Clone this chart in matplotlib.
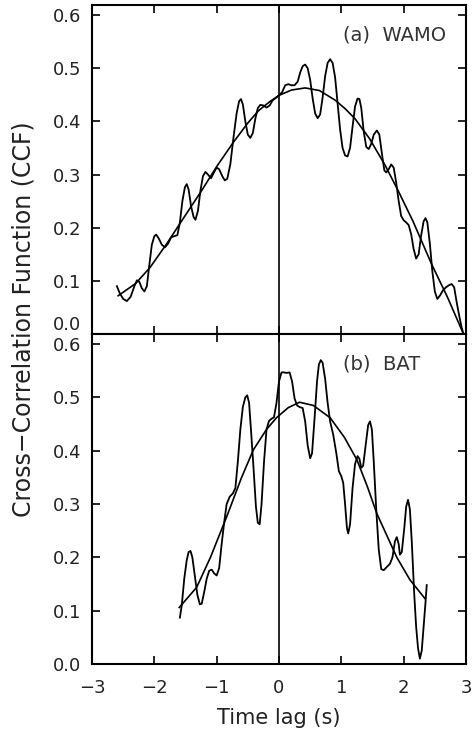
import matplotlib
matplotlib.use("Agg")
import matplotlib.pyplot as plt

# ---- data: panel (a) WAMO cross-correlation ----
wamo_lag = [-2.60, -2.56, -2.50, -2.44, -2.38, -2.32, -2.28, -2.24, -2.20, -2.16,
            -2.12, -2.08, -2.04, -2.00, -1.97, -1.93, -1.88, -1.83, -1.78, -1.73,
            -1.68, -1.63, -1.59, -1.55, -1.51, -1.48, -1.45, -1.41, -1.37, -1.34,
            -1.30, -1.26, -1.22, -1.18, -1.14, -1.09, -1.04, -1.00, -0.96, -0.91,
            -0.87, -0.83, -0.78, -0.73, -0.68, -0.64, -0.61, -0.58, -0.54, -0.50,
            -0.46, -0.42, -0.38, -0.34, -0.30, -0.25, -0.20, -0.15, -0.10, -0.05,
            0.00, 0.05, 0.10, 0.15, 0.20, 0.25, 0.30, 0.34, 0.38, 0.42,
            0.46, 0.50, 0.54, 0.58, 0.62, 0.66, 0.70, 0.74, 0.78, 0.82,
            0.86, 0.90, 0.94, 0.98, 1.02, 1.06, 1.10, 1.14, 1.18, 1.22,
            1.26, 1.29, 1.32, 1.36, 1.40, 1.44, 1.48, 1.52, 1.57, 1.61,
            1.65, 1.69, 1.72, 1.76, 1.80, 1.84, 1.88, 1.92, 1.96, 2.00,
            2.04, 2.08, 2.12, 2.16, 2.20, 2.24, 2.28, 2.32, 2.35, 2.38,
            2.42, 2.46, 2.50, 2.54, 2.58, 2.63, 2.68, 2.73, 2.77, 2.81,
            2.85, 2.89, 2.93, 2.96]
wamo_ccf = [0.090, 0.078, 0.066, 0.062, 0.070, 0.090, 0.101, 0.098, 0.086, 0.080,
            0.090, 0.130, 0.168, 0.184, 0.187, 0.180, 0.168, 0.163, 0.170, 0.182,
            0.184, 0.186, 0.210, 0.250, 0.276, 0.282, 0.272, 0.240, 0.220, 0.215,
            0.232, 0.270, 0.297, 0.305, 0.300, 0.293, 0.305, 0.313, 0.310, 0.297,
            0.289, 0.292, 0.320, 0.370, 0.415, 0.438, 0.442, 0.432, 0.400, 0.375,
            0.369, 0.378, 0.405, 0.425, 0.431, 0.430, 0.426, 0.430, 0.440, 0.444,
            0.449, 0.455, 0.468, 0.470, 0.468, 0.468, 0.475, 0.492, 0.504, 0.507,
            0.500, 0.478, 0.443, 0.415, 0.406, 0.413, 0.445, 0.485, 0.510, 0.517,
            0.510, 0.483, 0.435, 0.385, 0.350, 0.336, 0.334, 0.350, 0.390, 0.428,
            0.443, 0.442, 0.425, 0.380, 0.352, 0.348, 0.358, 0.375, 0.383, 0.375,
            0.340, 0.308, 0.304, 0.310, 0.319, 0.313, 0.285, 0.250, 0.222, 0.214,
            0.210, 0.205, 0.188, 0.160, 0.142, 0.150, 0.185, 0.212, 0.218, 0.210,
            0.170, 0.118, 0.080, 0.066, 0.072, 0.082, 0.088, 0.092, 0.094, 0.088,
            0.060, 0.035, 0.012, 0.000]
wamo_fit_lag = [-2.58, -2.30, -2.07, -1.80, -1.56, -1.24, -1.00, -0.73, -0.50, -0.33,
                -0.15, 0.00, 0.20, 0.42, 0.65, 0.90, 1.06, 1.22, 1.45, 1.70,
                1.91, 2.15, 2.45, 2.70, 2.96]
wamo_fit = [0.072, 0.095, 0.125, 0.170, 0.213, 0.270, 0.315, 0.361, 0.397, 0.420,
            0.437, 0.449, 0.459, 0.463, 0.458, 0.440, 0.424, 0.405, 0.368, 0.318,
            0.270, 0.212, 0.131, 0.070, 0.000]

# ---- data: panel (b) BAT cross-correlation ----
bat_lag = [-1.59, -1.56, -1.52, -1.48, -1.45, -1.42, -1.39, -1.35, -1.31, -1.27,
           -1.24, -1.20, -1.16, -1.12, -1.08, -1.04, -1.00, -0.96, -0.92, -0.88,
           -0.84, -0.79, -0.74, -0.70, -0.66, -0.62, -0.58, -0.54, -0.51, -0.48,
           -0.45, -0.41, -0.37, -0.34, -0.31, -0.28, -0.24, -0.20, -0.16, -0.12,
           -0.08, -0.04, 0.00, 0.04, 0.08, 0.12, 0.17, 0.21, 0.25, 0.29,
           0.33, 0.38, 0.42, 0.46, 0.50, 0.53, 0.57, 0.61, 0.64, 0.67,
           0.70, 0.74, 0.78, 0.82, 0.87, 0.92, 0.96, 1.00, 1.03, 1.06,
           1.09, 1.11, 1.14, 1.18, 1.22, 1.26, 1.29, 1.32, 1.35, 1.39,
           1.43, 1.46, 1.49, 1.52, 1.56, 1.60, 1.64, 1.68, 1.73, 1.78,
           1.82, 1.86, 1.89, 1.92, 1.94, 1.97, 2.01, 2.04, 2.07, 2.10,
           2.13, 2.17, 2.20, 2.23, 2.26, 2.29, 2.32, 2.35, 2.37]
bat_ccf = [0.087, 0.110, 0.160, 0.195, 0.210, 0.212, 0.200, 0.165, 0.130, 0.112,
           0.113, 0.135, 0.160, 0.175, 0.177, 0.170, 0.166, 0.180, 0.225, 0.265,
           0.300, 0.314, 0.320, 0.330, 0.380, 0.440, 0.482, 0.500, 0.504, 0.490,
           0.440, 0.370, 0.295, 0.265, 0.262, 0.300, 0.380, 0.440, 0.456, 0.460,
           0.463, 0.490, 0.530, 0.547, 0.547, 0.546, 0.547, 0.530, 0.498, 0.485,
           0.482, 0.480, 0.455, 0.410, 0.386, 0.395, 0.460, 0.530, 0.562, 0.570,
           0.565, 0.535, 0.490, 0.455, 0.430, 0.395, 0.362, 0.352, 0.340, 0.300,
           0.255, 0.245, 0.262, 0.330, 0.375, 0.390, 0.385, 0.368, 0.372, 0.410,
           0.448, 0.455, 0.440, 0.380, 0.290, 0.215, 0.178, 0.176, 0.182, 0.188,
           0.200, 0.230, 0.238, 0.225, 0.205, 0.210, 0.255, 0.295, 0.308, 0.290,
           0.230, 0.130, 0.070, 0.030, 0.010, 0.025, 0.070, 0.115, 0.148]
bat_fit_lag = [-1.60, -1.32, -1.10, -0.84, -0.60, -0.41, -0.20, -0.04, 0.15, 0.33,
               0.55, 0.82, 1.05, 1.25, 1.42, 1.57, 1.75, 1.89, 2.10, 2.34]
bat_fit = [0.106, 0.144, 0.200, 0.276, 0.350, 0.402, 0.440, 0.462, 0.481, 0.491,
           0.485, 0.462, 0.425, 0.383, 0.332, 0.282, 0.236, 0.200, 0.158, 0.123]

panel_labels = ["(a)  WAMO", "(b)  BAT"]
xticks = [-3, -2, -1, 0, 1, 2, 3]
yticks = [0.0, 0.1, 0.2, 0.3, 0.4, 0.5, 0.6]

plt.rcParams['font.family'] = ['DejaVu Sans']

fig = plt.figure(figsize=(4.74, 7.32), dpi=100)
L, R = 92 / 474, 466 / 474
ax1 = fig.add_axes([L, 1 - 334 / 732, R - L, (334 - 5) / 732])
ax2 = fig.add_axes([L, 1 - 664 / 732, R - L, (664 - 334) / 732])

series = [(ax1, wamo_lag, wamo_ccf, wamo_fit_lag, wamo_fit, panel_labels[0]),
          (ax2, bat_lag, bat_ccf, bat_fit_lag, bat_fit, panel_labels[1])]

for ax, lag, ccf, flag, fit, lab in series:
    ax.plot(lag, ccf, color='black', lw=1.3)
    ax.plot(flag, fit, color='black', lw=1.2)
    ax.axvline(0, color='black', lw=1.2)
    ax.set_xlim(-3, 3)
    ax.set_ylim(0, 0.619)
    ax.set_xticks(xticks)
    ax.set_yticks(yticks)
    ax.yaxis.set_major_formatter(matplotlib.ticker.FormatStrFormatter('%.1f'))
    ax.tick_params(direction='in', length=6, width=1.2, top=True, right=True,
                   labelsize=13, colors='black', labelcolor='#222222', pad=8)
    for sp in ax.spines.values():
        sp.set_linewidth(1.5)
    ax.text(1.03, 0.562, lab, fontsize=14, ha='left', va='center',
            color='#333333')

ax1.tick_params(labelbottom=False)
fig.canvas.draw()
ax1.get_yticklabels()[0].set_va('bottom')
ax2.tick_params(axis='x', pad=11)
ax2.set_xticklabels(['\u22123', '\u22122', '\u22121', '0', '1', '2', '3'])
ax2.set_xlabel('Time lag (s)', fontsize=15, labelpad=8, color='#222222')
fig.text(24 / 474, 1 - 319 / 732, 'Cross\u2212Correlation Function (CCF)',
         rotation=90, ha='center', va='center', fontsize=17, color='#222222')

fig.savefig('out.png', dpi=100)
